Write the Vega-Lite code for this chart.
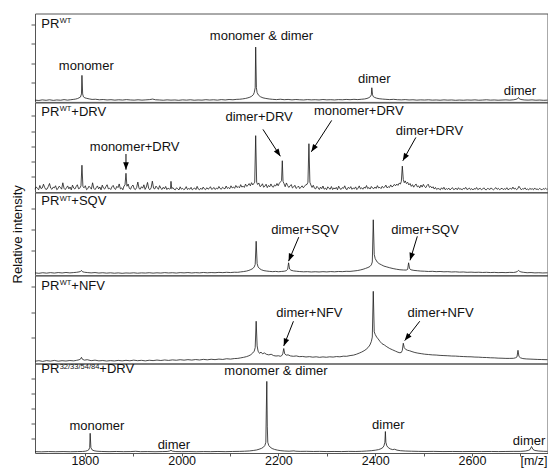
{
"$schema": "https://vega.github.io/schema/vega-lite/v6.json",
"padding": {"left": 10, "top": 12.5, "right": 0, "bottom": 0},
"spacing": 0,
"bounds": "flush",
"config": {
  "view": {"stroke": "#555", "strokeWidth": 1},
  "font": "Liberation Sans",
  "text": {"font": "Liberation Sans", "color": "#111"},
  "axis": {"labelFont": "Liberation Sans", "titleFont": "Liberation Sans"}
},
"datasets": {
"s1": [
{"x":1697,"y":2.0},{"x":1705,"y":1.6},{"x":1712,"y":2.3},{"x":1720,"y":1.8},{"x":1727,"y":2.4},{"x":1735,"y":1.7},{"x":1742,"y":2.2},{"x":1750,"y":1.9},{"x":1757,"y":2.6},{"x":1764,"y":2.0},{"x":1770,"y":2.4},{"x":1776,"y":2.8},{"x":1781,"y":3.2},{"x":1785,"y":3.8},{"x":1788,"y":4.6},{"x":1791,"y":5.5},{"x":1793,"y":9},{"x":1794,"y":30},{"x":1795.5,"y":9},{"x":1797,"y":5.8},{"x":1800,"y":4.6},{"x":1804,"y":4.0},{"x":1809,"y":3.4},{"x":1815,"y":2.8},{"x":1822,"y":3.0},{"x":1830,"y":2.4},{"x":1838,"y":2.7},{"x":1846,"y":2.2},{"x":1854,"y":2.5},{"x":1862,"y":2.0},{"x":1870,"y":2.4},{"x":1878,"y":2.1},{"x":1886,"y":2.6},{"x":1894,"y":2.2},{"x":1902,"y":2.0},{"x":1910,"y":2.4},{"x":1918,"y":2.0},{"x":1926,"y":2.3},{"x":1934,"y":2.6},{"x":1940,"y":3.2},{"x":1946,"y":2.4},{"x":1954,"y":2.2},{"x":1962,"y":1.9},{"x":1970,"y":2.3},{"x":1978,"y":2.0},{"x":1986,"y":2.2},{"x":1994,"y":1.8},{"x":2002,"y":2.3},{"x":2010,"y":2.0},{"x":2018,"y":2.4},{"x":2026,"y":1.9},{"x":2034,"y":2.2},{"x":2042,"y":2.0},{"x":2050,"y":2.5},{"x":2058,"y":2.1},{"x":2066,"y":2.4},{"x":2074,"y":2.0},{"x":2082,"y":2.6},{"x":2090,"y":2.2},{"x":2098,"y":2.7},{"x":2106,"y":2.4},{"x":2114,"y":2.9},{"x":2120,"y":3.0},{"x":2126,"y":3.4},{"x":2132,"y":3.9},{"x":2137,"y":4.6},{"x":2141,"y":5.3},{"x":2145,"y":6.5},{"x":2148,"y":8.0},{"x":2150,"y":10.5},{"x":2152,"y":16},{"x":2153,"y":62},{"x":2154.5,"y":16},{"x":2156,"y":10.5},{"x":2159,"y":7.5},{"x":2163,"y":5.8},{"x":2168,"y":4.6},{"x":2174,"y":3.9},{"x":2181,"y":3.3},{"x":2188,"y":2.9},{"x":2196,"y":2.6},{"x":2204,"y":3.0},{"x":2212,"y":2.5},{"x":2220,"y":2.8},{"x":2228,"y":2.3},{"x":2236,"y":2.7},{"x":2244,"y":2.4},{"x":2252,"y":2.2},{"x":2260,"y":2.6},{"x":2268,"y":2.3},{"x":2276,"y":2.5},{"x":2284,"y":2.2},{"x":2292,"y":2.7},{"x":2300,"y":2.3},{"x":2308,"y":2.5},{"x":2316,"y":2.2},{"x":2324,"y":2.6},{"x":2332,"y":2.4},{"x":2340,"y":2.8},{"x":2348,"y":2.5},{"x":2356,"y":2.9},{"x":2364,"y":2.6},{"x":2372,"y":3.0},{"x":2378,"y":3.3},{"x":2383,"y":3.9},{"x":2387,"y":4.8},{"x":2390,"y":6.0},{"x":2392,"y":8},{"x":2393,"y":16},{"x":2394.5,"y":8},{"x":2396,"y":6.0},{"x":2399,"y":5.0},{"x":2403,"y":4.2},{"x":2408,"y":3.6},{"x":2415,"y":3.2},{"x":2422,"y":2.9},{"x":2430,"y":2.6},{"x":2438,"y":2.9},{"x":2446,"y":2.5},{"x":2454,"y":2.3},{"x":2462,"y":2.6},{"x":2470,"y":2.2},{"x":2478,"y":2.4},{"x":2486,"y":2.0},{"x":2494,"y":2.3},{"x":2502,"y":2.1},{"x":2510,"y":2.4},{"x":2518,"y":2.0},{"x":2526,"y":2.2},{"x":2534,"y":1.9},{"x":2542,"y":2.3},{"x":2550,"y":2.0},{"x":2558,"y":2.2},{"x":2566,"y":1.8},{"x":2574,"y":2.1},{"x":2582,"y":1.9},{"x":2590,"y":2.2},{"x":2598,"y":2.0},{"x":2606,"y":2.3},{"x":2614,"y":1.9},{"x":2622,"y":2.1},{"x":2630,"y":2.4},{"x":2638,"y":2.0},{"x":2646,"y":2.2},{"x":2654,"y":1.9},{"x":2662,"y":2.1},{"x":2670,"y":2.3},{"x":2678,"y":2.0},{"x":2686,"y":2.4},{"x":2691,"y":2.9},{"x":2694,"y":3.6},{"x":2696,"y":5.0},{"x":2698,"y":3.4},{"x":2701,"y":2.7},{"x":2708,"y":2.2},{"x":2716,"y":2.0},{"x":2724,"y":2.3},{"x":2732,"y":1.9},{"x":2740,"y":2.1},{"x":2748,"y":1.8},{"x":2756,"y":2.0}
],
"s2": [
{"x":1697,"y":3.2},{"x":1699.5,"y":5.8},{"x":1702,"y":4.1},{"x":1704.5,"y":2.6},{"x":1707,"y":7.4},{"x":1709.5,"y":3.9},{"x":1712,"y":4.6},{"x":1714.5,"y":8.8},{"x":1717,"y":5.1},{"x":1719.5,"y":2.9},{"x":1722,"y":3.5},{"x":1724.5,"y":6.2},{"x":1727,"y":9.6},{"x":1729.5,"y":4.4},{"x":1732,"y":3.1},{"x":1734.5,"y":5.5},{"x":1737,"y":4.8},{"x":1739.5,"y":7.1},{"x":1742,"y":2.7},{"x":1744.5,"y":3.8},{"x":1747,"y":6.6},{"x":1749.5,"y":5.2},{"x":1752,"y":3.3},{"x":1754.5,"y":10.4},{"x":1757,"y":4.2},{"x":1759.5,"y":2.8},{"x":1762,"y":4.9},{"x":1764.5,"y":6.9},{"x":1767,"y":3.6},{"x":1769.5,"y":5.7},{"x":1772,"y":2.5},{"x":1774.5,"y":7.8},{"x":1777,"y":4.5},{"x":1779.5,"y":3.4},{"x":1782,"y":6.1},{"x":1784.5,"y":8.2},{"x":1787,"y":3.7},{"x":1789.5,"y":4.3},
{"x":1792,"y":7},{"x":1794,"y":30},{"x":1796,"y":6},
{"x":1798.5,"y":4.8},{"x":1801,"y":7.1},{"x":1803.5,"y":2.7},{"x":1806,"y":3.8},{"x":1808.5,"y":6.6},{"x":1811,"y":5.2},{"x":1813.5,"y":3.3},{"x":1816,"y":10.4},{"x":1818.5,"y":4.2},{"x":1821,"y":2.8},{"x":1823.5,"y":4.9},{"x":1826,"y":6.9},{"x":1828.5,"y":3.6},{"x":1831,"y":5.7},{"x":1833.5,"y":2.5},{"x":1836,"y":7.8},{"x":1838.5,"y":4.5},{"x":1841,"y":3.4},{"x":1843.5,"y":6.1},{"x":1846,"y":8.2},{"x":1848.5,"y":3.7},{"x":1851,"y":4.3},{"x":1853.5,"y":2.9},{"x":1856,"y":5.9},{"x":1858.5,"y":7.5},{"x":1861,"y":4.0},{"x":1863.5,"y":3.0},{"x":1866,"y":6.4},{"x":1868.5,"y":5.0},{"x":1871,"y":9.1},{"x":1873.5,"y":3.5},{"x":1876,"y":4.7},{"x":1878.5,"y":2.6},{"x":1881,"y":6.8},
{"x":1883,"y":8},{"x":1885,"y":21},{"x":1887,"y":6.5},
{"x":1889.5,"y":9.0},{"x":1892,"y":4.1},{"x":1894.5,"y":3.2},{"x":1897,"y":6.5},{"x":1899.5,"y":7.9},{"x":1902,"y":3.6},{"x":1904.5,"y":2.8},{"x":1907,"y":5.1},{"x":1909.5,"y":11.2},{"x":1912,"y":4.0},{"x":1914.5,"y":3.3},{"x":1917,"y":6.0},{"x":1919.5,"y":4.4},{"x":1922,"y":8.1},{"x":1924.5,"y":3.0},{"x":1927,"y":5.6},{"x":1929.5,"y":10.8},{"x":1932,"y":3.9},{"x":1934.5,"y":2.7},{"x":1937,"y":4.8},{"x":1939.5,"y":12.2},{"x":1942,"y":4.3},{"x":1944.5,"y":3.5},{"x":1947,"y":6.7},{"x":1949.5,"y":5.0},{"x":1952,"y":3.1},{"x":1954.5,"y":7.2},{"x":1957,"y":4.2},{"x":1959.5,"y":2.9},{"x":1962,"y":5.4},{"x":1964.5,"y":3.6},{"x":1967,"y":6.3},{"x":1969.5,"y":2.8},{"x":1972,"y":4.5},{"x":1974.5,"y":3.4},
{"x":1977,"y":4},{"x":1978,"y":12},{"x":1979.5,"y":3.8},
{"x":1982,"y":5.0},{"x":1984.5,"y":3.1},{"x":1987,"y":2.6},{"x":1989.5,"y":4.8},{"x":1992,"y":3.7},{"x":1994.5,"y":2.4},{"x":1997,"y":5.9},{"x":1999.5,"y":3.3},{"x":2002,"y":4.2},{"x":2004.5,"y":2.7},{"x":2007,"y":3.5},{"x":2009.5,"y":6.1},{"x":2012,"y":2.9},{"x":2014.5,"y":4.0},{"x":2017,"y":3.2},{"x":2019.5,"y":5.3},{"x":2022,"y":2.5},{"x":2024.5,"y":3.8},{"x":2027,"y":4.6},{"x":2029.5,"y":2.8},{"x":2032,"y":6.4},{"x":2034.5,"y":3.4},{"x":2037,"y":2.6},{"x":2039.5,"y":4.4},{"x":2042,"y":3.0},{"x":2044.5,"y":5.6},{"x":2047,"y":3.6},{"x":2049.5,"y":2.7},{"x":2052,"y":4.9},{"x":2054.5,"y":3.3},{"x":2057,"y":4.1},{"x":2059.5,"y":6.0},{"x":2062,"y":3.1},{"x":2064.5,"y":3.9},{"x":2067,"y":5.2},{"x":2069.5,"y":2.9},{"x":2072,"y":4.5},{"x":2074.5,"y":3.5},{"x":2077,"y":6.3},{"x":2079.5,"y":4.0},{"x":2082,"y":3.2},{"x":2084.5,"y":5.4},{"x":2087,"y":4.3},{"x":2089.5,"y":3.6},{"x":2092,"y":6.8},{"x":2094.5,"y":4.1},{"x":2097,"y":5.0},{"x":2099.5,"y":3.8},{"x":2102,"y":7.0},{"x":2104.5,"y":4.6},{"x":2107,"y":5.7},{"x":2109.5,"y":4.2},{"x":2112,"y":7.4},{"x":2114.5,"y":5.1},{"x":2117,"y":6.2},{"x":2119.5,"y":4.8},{"x":2122,"y":8.3},{"x":2124.5,"y":5.6},{"x":2127,"y":6.6},{"x":2129.5,"y":5.2},{"x":2132,"y":8.9},{"x":2134.5,"y":6.4},
{"x":2137,"y":7.5},{"x":2139.5,"y":9.5},{"x":2142,"y":7},{"x":2144.5,"y":10.5},{"x":2147,"y":8},{"x":2149,"y":9.5},{"x":2151,"y":11},{"x":2153,"y":63},{"x":2155,"y":11},{"x":2157,"y":8.5},
{"x":2159.5,"y":10.2},{"x":2162,"y":6.1},{"x":2164.5,"y":7.0},{"x":2167,"y":9.3},{"x":2169.5,"y":5.4},{"x":2172,"y":6.6},{"x":2174.5,"y":8.8},{"x":2177,"y":5.0},{"x":2179.5,"y":7.4},{"x":2182,"y":5.9},{"x":2184.5,"y":9.1},{"x":2187,"y":6.3},{"x":2189.5,"y":5.5},{"x":2192,"y":8.0},{"x":2194.5,"y":6.8},{"x":2197,"y":9.6},{"x":2199.5,"y":7.1},{"x":2202,"y":10.0},{"x":2204.5,"y":11.5},
{"x":2206.5,"y":13},{"x":2208,"y":35},{"x":2209.5,"y":12},{"x":2211.5,"y":9.5},
{"x":2214,"y":6.0},{"x":2216.5,"y":10.2},{"x":2219,"y":7.3},{"x":2221.5,"y":5.2},{"x":2224,"y":6.9},{"x":2226.5,"y":8.4},{"x":2229,"y":4.6},{"x":2231.5,"y":5.8},{"x":2234,"y":7.6},{"x":2236.5,"y":4.1},{"x":2239,"y":5.3},{"x":2241.5,"y":6.7},{"x":2244,"y":3.9},{"x":2246.5,"y":5.5},{"x":2249,"y":7.0},{"x":2251.5,"y":4.8},{"x":2254,"y":6.5},{"x":2256.5,"y":8.2},
{"x":2259,"y":8.5},{"x":2261,"y":11},{"x":2263,"y":54},{"x":2265,"y":11},{"x":2267,"y":8},
{"x":2269.5,"y":5.2},{"x":2272,"y":7.6},{"x":2274.5,"y":4.3},{"x":2277,"y":3.6},{"x":2279.5,"y":6.4},{"x":2282,"y":4.9},{"x":2284.5,"y":2.9},{"x":2287,"y":5.6},{"x":2289.5,"y":3.8},{"x":2292,"y":6.8},{"x":2294.5,"y":3.2},{"x":2297,"y":4.5},{"x":2299.5,"y":2.7},{"x":2302,"y":5.9},{"x":2304.5,"y":4.1},{"x":2307,"y":3.3},{"x":2309.5,"y":6.2},{"x":2312,"y":2.8},{"x":2314.5,"y":4.7},{"x":2317,"y":3.5},{"x":2319.5,"y":5.3},{"x":2322,"y":2.6},{"x":2324.5,"y":6.6},{"x":2327,"y":3.9},{"x":2329.5,"y":3.0},{"x":2332,"y":5.0},{"x":2334.5,"y":4.2},{"x":2337,"y":7.0},{"x":2339.5,"y":3.4},{"x":2342,"y":2.9},{"x":2344.5,"y":5.4},{"x":2347,"y":4.0},{"x":2349.5,"y":6.1},{"x":2352,"y":3.1},{"x":2354.5,"y":4.6},{"x":2357,"y":3.7},{"x":2359.5,"y":5.8},{"x":2362,"y":2.8},{"x":2364.5,"y":4.4},{"x":2367,"y":6.9},{"x":2369.5,"y":3.6},{"x":2372,"y":4.8},{"x":2374.5,"y":3.2},{"x":2377,"y":5.5},{"x":2379.5,"y":4.3},{"x":2382,"y":7.3},{"x":2384.5,"y":3.9},{"x":2387,"y":5.1},{"x":2389.5,"y":3.4},{"x":2392,"y":6.3},{"x":2394.5,"y":4.5},{"x":2397,"y":3.8},{"x":2399.5,"y":5.7},{"x":2402,"y":4.1},{"x":2404.5,"y":7.2},{"x":2407,"y":4.6},{"x":2409.5,"y":5.3},{"x":2412,"y":3.9},{"x":2414.5,"y":6.5},{"x":2417,"y":4.8},{"x":2419.5,"y":5.6},{"x":2422,"y":7.8},{"x":2424.5,"y":4.7},{"x":2427,"y":6.0},{"x":2429.5,"y":5.2},{"x":2432,"y":8.0},{"x":2434.5,"y":5.8},{"x":2437,"y":6.6},{"x":2439.5,"y":8.6},
{"x":2442,"y":7},{"x":2444.5,"y":9},{"x":2447,"y":7.5},{"x":2449.5,"y":10},{"x":2452,"y":9},{"x":2454,"y":12},{"x":2456,"y":29},{"x":2458,"y":14},{"x":2460,"y":10.5},{"x":2462,"y":12.5},{"x":2464.5,"y":9.5},{"x":2467,"y":11},{"x":2469.5,"y":8},
{"x":2472,"y":9.6},{"x":2474.5,"y":6.4},{"x":2477,"y":8.3},{"x":2479.5,"y":5.5},{"x":2482,"y":7.7},{"x":2484.5,"y":9.0},{"x":2487,"y":5.8},{"x":2489.5,"y":6.9},{"x":2492,"y":4.7},{"x":2494.5,"y":7.9},{"x":2497,"y":5.6},{"x":2499.5,"y":8.6},{"x":2502,"y":6.2},{"x":2504.5,"y":4.9},{"x":2507,"y":7.4},{"x":2509.5,"y":8.8},{"x":2512,"y":5.3},{"x":2514.5,"y":6.5},{"x":2517,"y":4.6},{"x":2519.5,"y":6.0},
{"x":2522,"y":3.4},{"x":2524.5,"y":5.2},{"x":2527,"y":2.9},{"x":2529.5,"y":4.1},{"x":2532,"y":3.6},{"x":2534.5,"y":2.5},{"x":2537,"y":4.8},{"x":2539.5,"y":3.2},{"x":2542,"y":5.4},{"x":2544.5,"y":2.7},{"x":2547,"y":3.9},{"x":2549.5,"y":3.0},{"x":2552,"y":4.5},{"x":2554.5,"y":2.4},{"x":2557,"y":3.7},{"x":2559.5,"y":5.0},{"x":2562,"y":2.8},{"x":2564.5,"y":3.3},{"x":2567,"y":4.4},{"x":2569.5,"y":2.6},{"x":2572,"y":4.9},{"x":2574.5,"y":3.1},{"x":2577,"y":3.8},{"x":2579.5,"y":2.5},{"x":2582,"y":4.2},{"x":2584.5,"y":3.5},{"x":2587,"y":5.3},{"x":2589.5,"y":2.9},{"x":2592,"y":3.4},{"x":2594.5,"y":4.6},{"x":2597,"y":2.7},{"x":2599.5,"y":3.9},{"x":2602,"y":2.4},{"x":2604.5,"y":4.0},{"x":2607,"y":3.2},{"x":2609.5,"y":5.1},{"x":2612,"y":2.8},{"x":2614.5,"y":3.6},{"x":2617,"y":4.3},{"x":2619.5,"y":2.6},{"x":2622,"y":3.4},{"x":2624.5,"y":4.8},{"x":2627,"y":3.0},{"x":2629.5,"y":2.5},{"x":2632,"y":4.1},{"x":2634.5,"y":3.7},{"x":2637,"y":2.9},{"x":2639.5,"y":4.7},{"x":2642,"y":3.3},{"x":2644.5,"y":2.6},{"x":2647,"y":3.9},{"x":2649.5,"y":5.0},{"x":2652,"y":3.1},{"x":2654.5,"y":4.2},{"x":2657,"y":2.7},{"x":2659.5,"y":3.5},{"x":2662,"y":4.4},{"x":2664.5,"y":2.8},{"x":2667,"y":3.8},{"x":2669.5,"y":3.0},{"x":2672,"y":4.9},{"x":2674.5,"y":2.6},{"x":2677,"y":3.6},{"x":2679.5,"y":4.1},{"x":2682,"y":3.2},{"x":2684.5,"y":5.6},{"x":2687,"y":3.4},{"x":2689.5,"y":4.3},{"x":2692,"y":2.7},{"x":2694.5,"y":3.7},{"x":2697,"y":6.5},{"x":2699.5,"y":4.5},{"x":2702,"y":2.5},{"x":2704.5,"y":3.9},{"x":2707,"y":3.3},{"x":2709.5,"y":4.8},{"x":2712,"y":2.8},{"x":2714.5,"y":3.5},{"x":2717,"y":2.4},{"x":2719.5,"y":4.2},{"x":2722,"y":3.1},{"x":2724.5,"y":3.8},{"x":2727,"y":2.6},{"x":2729.5,"y":4.6},{"x":2732,"y":3.0},{"x":2734.5,"y":3.5},{"x":2737,"y":2.7},{"x":2739.5,"y":4.1},{"x":2742,"y":3.3},{"x":2744.5,"y":2.5},{"x":2747,"y":3.9},{"x":2749.5,"y":3.2},{"x":2752,"y":4.4},{"x":2754.5,"y":2.9},{"x":2756,"y":3.5}
],
"s3": [
{"x":1697,"y":2.8},{"x":1705,"y":2.3},{"x":1713,"y":3},{"x":1721,"y":2.5},{"x":1729,"y":3.1},{"x":1737,"y":2.6},{"x":1745,"y":3.2},{"x":1753,"y":2.7},{"x":1761,"y":3.3},{"x":1769,"y":2.8},{"x":1777,"y":3.2},{"x":1783,"y":3.5},{"x":1788,"y":4},{"x":1791,"y":4.5},{"x":1793,"y":5.8},{"x":1795,"y":4.2},{"x":1799,"y":3.6},{"x":1805,"y":3.2},{"x":1813,"y":2.8},{"x":1821,"y":3.2},{"x":1829,"y":2.6},{"x":1837,"y":3.0},{"x":1845,"y":2.5},{"x":1853,"y":2.9},{"x":1861,"y":2.4},{"x":1869,"y":2.8},{"x":1877,"y":2.3},{"x":1885,"y":2.7},{"x":1893,"y":2.5},{"x":1901,"y":2.9},{"x":1909,"y":2.4},{"x":1917,"y":2.8},{"x":1925,"y":2.6},{"x":1933,"y":3.0},{"x":1941,"y":2.5},{"x":1949,"y":2.9},{"x":1957,"y":2.6},{"x":1965,"y":3.1},{"x":1973,"y":2.7},{"x":1981,"y":3.0},{"x":1989,"y":2.6},{"x":1997,"y":3.1},{"x":2005,"y":2.8},{"x":2013,"y":3.2},{"x":2021,"y":2.7},{"x":2029,"y":3.1},{"x":2037,"y":2.8},{"x":2045,"y":3.3},{"x":2053,"y":2.9},{"x":2061,"y":3.2},{"x":2069,"y":3.0},{"x":2077,"y":3.4},{"x":2085,"y":3.1},{"x":2093,"y":3.5},{"x":2101,"y":3.2},{"x":2109,"y":3.6},{"x":2116,"y":3.5},{"x":2122,"y":4.0},{"x":2128,"y":4.4},{"x":2134,"y":5.0},{"x":2139,"y":5.8},{"x":2143,"y":6.8},{"x":2147,"y":8.0},{"x":2150,"y":10},{"x":2152,"y":13},{"x":2154,"y":41},{"x":2156,"y":14},{"x":2158,"y":10},{"x":2161,"y":8},{"x":2165,"y":6.5},{"x":2170,"y":5.5},{"x":2176,"y":5},{"x":2182,"y":4.6},{"x":2188,"y":4.3},{"x":2194,"y":4.6},{"x":2200,"y":4.2},{"x":2206,"y":4.5},{"x":2212,"y":4.8},{"x":2216,"y":5.4},{"x":2219,"y":7},{"x":2221,"y":15},{"x":2223,"y":7.5},{"x":2226,"y":6},{"x":2231,"y":5.2},{"x":2237,"y":4.8},{"x":2244,"y":4.4},{"x":2252,"y":4.1},{"x":2260,"y":4.3},{"x":2268,"y":3.9},{"x":2276,"y":4.2},{"x":2284,"y":3.9},{"x":2292,"y":4.3},{"x":2300,"y":4.0},{"x":2308,"y":4.4},{"x":2316,"y":4.1},{"x":2324,"y":4.5},{"x":2332,"y":4.3},{"x":2340,"y":4.7},{"x":2348,"y":4.6},{"x":2356,"y":5.1},{"x":2363,"y":5.6},{"x":2369,"y":6.3},{"x":2375,"y":7.2},{"x":2380,"y":8.2},{"x":2385,"y":9.3},{"x":2389,"y":10.5},{"x":2392,"y":12.5},{"x":2394,"y":16},{"x":2396,"y":67},{"x":2398,"y":25},{"x":2400,"y":20},{"x":2404,"y":16},{"x":2408,"y":14},{"x":2413,"y":12.5},{"x":2418,"y":11},{"x":2424,"y":10},{"x":2430,"y":9},{"x":2437,"y":8},{"x":2444,"y":7.2},{"x":2451,"y":6.6},{"x":2458,"y":6.3},{"x":2464,"y":6.2},{"x":2467,"y":7},{"x":2469,"y":15},{"x":2471,"y":8},{"x":2474,"y":6.5},{"x":2480,"y":5.8},{"x":2487,"y":5.4},{"x":2494,"y":5.0},{"x":2502,"y":4.8},{"x":2510,"y":4.5},{"x":2518,"y":4.7},{"x":2526,"y":4.3},{"x":2534,"y":4.5},{"x":2542,"y":4.1},{"x":2550,"y":4.3},{"x":2558,"y":3.9},{"x":2566,"y":4.1},{"x":2574,"y":3.7},{"x":2582,"y":3.9},{"x":2590,"y":3.5},{"x":2598,"y":3.7},{"x":2606,"y":3.4},{"x":2614,"y":3.6},{"x":2622,"y":3.3},{"x":2630,"y":3.5},{"x":2638,"y":3.2},{"x":2646,"y":3.4},{"x":2654,"y":3.1},{"x":2662,"y":3.3},{"x":2670,"y":3.1},{"x":2678,"y":3.4},{"x":2686,"y":3.3},{"x":2691,"y":3.8},{"x":2694,"y":4.6},{"x":2696,"y":5.8},{"x":2698,"y":4.8},{"x":2701,"y":4.0},{"x":2706,"y":3.5},{"x":2714,"y":3.0},{"x":2722,"y":3.2},{"x":2730,"y":2.8},{"x":2738,"y":3.0},{"x":2746,"y":2.7},{"x":2756,"y":2.9}
],
"s4": [
{"x":1697,"y":2.6},{"x":1705,"y":3.2},{"x":1713,"y":2.4},{"x":1721,"y":3.3},{"x":1729,"y":2.7},{"x":1737,"y":3.5},{"x":1745,"y":2.6},{"x":1753,"y":3.2},{"x":1761,"y":2.8},{"x":1769,"y":3.4},{"x":1777,"y":3.0},{"x":1783,"y":3.6},{"x":1788,"y":4.2},{"x":1791,"y":5},{"x":1793,"y":7},{"x":1795,"y":4.8},{"x":1799,"y":3.8},{"x":1805,"y":4.3},{"x":1813,"y":3.2},{"x":1821,"y":3.8},{"x":1829,"y":3.0},{"x":1837,"y":3.4},{"x":1845,"y":2.8},{"x":1853,"y":3.3},{"x":1861,"y":2.9},{"x":1869,"y":3.5},{"x":1877,"y":3.0},{"x":1885,"y":3.6},{"x":1893,"y":3.1},{"x":1901,"y":3.8},{"x":1909,"y":3.2},{"x":1917,"y":3.6},{"x":1925,"y":3.0},{"x":1933,"y":3.7},{"x":1941,"y":3.3},{"x":1949,"y":3.9},{"x":1957,"y":3.4},{"x":1965,"y":4.0},{"x":1973,"y":3.5},{"x":1981,"y":4.1},{"x":1989,"y":3.7},{"x":1997,"y":4.3},{"x":2005,"y":3.8},{"x":2013,"y":4.4},{"x":2021,"y":3.9},{"x":2029,"y":4.5},{"x":2037,"y":4.0},{"x":2045,"y":4.7},{"x":2053,"y":4.2},{"x":2061,"y":4.8},{"x":2069,"y":4.4},{"x":2077,"y":5.0},{"x":2085,"y":4.6},{"x":2093,"y":5.4},{"x":2101,"y":5.0},{"x":2109,"y":5.6},{"x":2116,"y":5.8},{"x":2122,"y":6.4},{"x":2128,"y":7.0},{"x":2134,"y":7.8},{"x":2139,"y":8.8},{"x":2143,"y":10},{"x":2147,"y":12},{"x":2150,"y":14},{"x":2152,"y":18},{"x":2154,"y":48},{"x":2156,"y":20},{"x":2158,"y":14},{"x":2161,"y":11.5},{"x":2164,"y":13},{"x":2167,"y":11},{"x":2171,"y":12},{"x":2175,"y":10.5},{"x":2180,"y":9.8},{"x":2185,"y":10.5},{"x":2190,"y":9},{"x":2195,"y":8.5},{"x":2200,"y":8.8},{"x":2204,"y":8.2},{"x":2207,"y":9},{"x":2209,"y":11},{"x":2211,"y":17},{"x":2213,"y":11},{"x":2216,"y":9.5},{"x":2220,"y":9.8},{"x":2225,"y":8.6},{"x":2231,"y":8.2},{"x":2237,"y":8.6},{"x":2243,"y":7.8},{"x":2250,"y":8.0},{"x":2257,"y":7.4},{"x":2264,"y":7.8},{"x":2271,"y":7.2},{"x":2278,"y":7.6},{"x":2285,"y":7.0},{"x":2292,"y":7.5},{"x":2299,"y":7.1},{"x":2306,"y":7.6},{"x":2313,"y":7.3},{"x":2320,"y":7.9},{"x":2327,"y":7.6},{"x":2334,"y":8.3},{"x":2341,"y":8.2},{"x":2348,"y":9.0},{"x":2355,"y":9.5},{"x":2361,"y":10.5},{"x":2367,"y":11.8},{"x":2372,"y":13},{"x":2377,"y":14.5},{"x":2381,"y":16},{"x":2385,"y":18},{"x":2389,"y":21},{"x":2392,"y":25},{"x":2394,"y":30},{"x":2396,"y":82},{"x":2398,"y":36},{"x":2400,"y":33},{"x":2403,"y":30},{"x":2406,"y":28},{"x":2410,"y":25},{"x":2414,"y":22.5},{"x":2419,"y":21},{"x":2424,"y":19},{"x":2430,"y":17},{"x":2436,"y":15.5},{"x":2442,"y":14},{"x":2447,"y":12.8},{"x":2451,"y":12.2},{"x":2454,"y":12.6},{"x":2456,"y":15},{"x":2458,"y":23},{"x":2460,"y":18},{"x":2463,"y":16},{"x":2467,"y":15},{"x":2471,"y":14.5},{"x":2476,"y":13.5},{"x":2482,"y":12.5},{"x":2488,"y":11.8},{"x":2495,"y":11.2},{"x":2502,"y":10.6},{"x":2510,"y":10.2},{"x":2518,"y":9.8},{"x":2526,"y":9.6},{"x":2534,"y":9.2},{"x":2542,"y":9.0},{"x":2550,"y":8.8},{"x":2558,"y":8.5},{"x":2566,"y":8.4},{"x":2574,"y":8.1},{"x":2582,"y":7.9},{"x":2590,"y":7.7},{"x":2598,"y":7.6},{"x":2606,"y":7.3},{"x":2614,"y":7.2},{"x":2622,"y":6.9},{"x":2630,"y":6.8},{"x":2638,"y":6.5},{"x":2646,"y":6.4},{"x":2654,"y":6.1},{"x":2662,"y":6.0},{"x":2670,"y":5.8},{"x":2678,"y":5.8},{"x":2686,"y":5.9},{"x":2690,"y":6.5},{"x":2693,"y":7.5},{"x":2695,"y":15},{"x":2697,"y":8},{"x":2700,"y":6.5},{"x":2705,"y":5.6},{"x":2712,"y":5.2},{"x":2720,"y":5.0},{"x":2728,"y":4.8},{"x":2736,"y":4.6},{"x":2744,"y":4.5},{"x":2756,"y":4.3}
],
"s5": [
{"x":1697,"y":1.5},{"x":1710,"y":1.3},{"x":1725,"y":1.6},{"x":1740,"y":1.4},{"x":1755,"y":1.6},{"x":1770,"y":1.4},{"x":1785,"y":1.6},{"x":1795,"y":1.7},{"x":1801,"y":2.0},{"x":1805,"y":2.6},{"x":1808,"y":3.5},{"x":1810,"y":6},{"x":1811,"y":22},{"x":1812.5,"y":6},{"x":1815,"y":3.5},{"x":1819,"y":2.5},{"x":1825,"y":2.0},{"x":1835,"y":1.7},{"x":1850,"y":1.5},{"x":1865,"y":1.7},{"x":1880,"y":1.5},{"x":1895,"y":1.6},{"x":1905,"y":1.9},{"x":1915,"y":1.5},{"x":1930,"y":1.6},{"x":1945,"y":1.4},{"x":1960,"y":1.6},{"x":1970,"y":1.7},{"x":1975,"y":2.2},{"x":1978,"y":3.0},{"x":1981,"y":2.1},{"x":1988,"y":1.6},{"x":2000,"y":1.5},{"x":2015,"y":1.6},{"x":2030,"y":1.4},{"x":2045,"y":1.6},{"x":2060,"y":1.5},{"x":2075,"y":1.7},{"x":2090,"y":1.5},{"x":2105,"y":1.7},{"x":2120,"y":1.8},{"x":2130,"y":2.0},{"x":2140,"y":2.3},{"x":2148,"y":2.8},{"x":2155,"y":3.4},{"x":2160,"y":4.2},{"x":2165,"y":5.2},{"x":2169,"y":6.5},{"x":2172,"y":8.5},{"x":2174,"y":12},{"x":2175,"y":48},{"x":2176,"y":80},{"x":2177,"y":30},{"x":2178,"y":12},{"x":2180,"y":8.5},{"x":2183,"y":6.5},{"x":2187,"y":5},{"x":2192,"y":4},{"x":2198,"y":3.2},{"x":2205,"y":2.6},{"x":2213,"y":2.2},{"x":2222,"y":2.0},{"x":2232,"y":2.4},{"x":2236,"y":2.0},{"x":2245,"y":1.8},{"x":2258,"y":1.9},{"x":2272,"y":1.7},{"x":2285,"y":1.8},{"x":2300,"y":1.6},{"x":2315,"y":1.7},{"x":2330,"y":1.6},{"x":2345,"y":1.8},{"x":2360,"y":1.7},{"x":2372,"y":1.9},{"x":2382,"y":2.2},{"x":2392,"y":2.6},{"x":2400,"y":3.1},{"x":2407,"y":3.8},{"x":2412,"y":4.8},{"x":2416,"y":6.2},{"x":2418,"y":8},{"x":2420,"y":12},{"x":2421,"y":24},{"x":2422,"y":12},{"x":2424,"y":8},{"x":2427,"y":6},{"x":2431,"y":4.6},{"x":2436,"y":3.8},{"x":2440,"y":4.2},{"x":2445,"y":3.2},{"x":2452,"y":2.6},{"x":2462,"y":2.2},{"x":2475,"y":2.0},{"x":2490,"y":1.8},{"x":2505,"y":1.7},{"x":2520,"y":1.8},{"x":2540,"y":1.6},{"x":2560,"y":1.7},{"x":2580,"y":1.6},{"x":2600,"y":1.7},{"x":2620,"y":1.6},{"x":2640,"y":1.7},{"x":2655,"y":1.6},{"x":2670,"y":1.7},{"x":2685,"y":1.8},{"x":2700,"y":1.8},{"x":2710,"y":2.2},{"x":2716,"y":2.8},{"x":2720,"y":3.8},{"x":2723,"y":7.2},{"x":2726,"y":4.0},{"x":2730,"y":2.8},{"x":2738,"y":2.2},{"x":2748,"y":1.9},{"x":2756,"y":1.8}
],
"ann": [
{"p":1,"x":1803,"y":36,"t":"monomer"},
{"p":1,"x":2165,"y":70.5,"t":"monomer & dimer"},
{"p":1,"x":2398,"y":21.5,"t":"dimer"},
{"p":1,"x":2699,"y":7.6,"t":"dimer"},
{"p":2,"x":1903,"y":46,"t":"monomer+DRV"},
{"p":2,"x":2160,"y":79.6,"t":"dimer+DRV"},
{"p":2,"x":2366,"y":86.3,"t":"monomer+DRV"},
{"p":2,"x":2512,"y":64,"t":"dimer+DRV"},
{"p":3,"x":2255,"y":50,"t":"dimer+SQV"},
{"p":3,"x":2503,"y":50,"t":"dimer+SQV"},
{"p":4,"x":2264,"y":53,"t":"dimer+NFV"},
{"p":4,"x":2535,"y":53,"t":"dimer+NFV"},
{"p":5,"x":1825,"y":26,"t":"monomer"},
{"p":5,"x":1984,"y":4,"t":"dimer"},
{"p":5,"x":2195,"y":87.5,"t":"monomer & dimer"},
{"p":5,"x":2427,"y":27,"t":"dimer"},
{"p":5,"x":2718,"y":9.3,"t":"dimer"}
],
"nm": [
{"p":1,"x":1710,"y":84,"t":"PR"},
{"p":2,"x":1710,"y":85,"t":"PR"},{"p":2,"x":1772,"y":85,"t":"+DRV"},
{"p":3,"x":1710,"y":84.6,"t":"PR"},{"p":3,"x":1772,"y":84.6,"t":"+SQV"},
{"p":4,"x":1710,"y":83.8,"t":"PR"},{"p":4,"x":1772,"y":83.8,"t":"+NFV"},
{"p":5,"x":1710,"y":89,"t":"PR"},{"p":5,"x":1830,"y":89,"t":"+DRV"}
],
"sup": [
{"p":1,"x":1748,"y":84,"t":"WT"},
{"p":2,"x":1748,"y":85,"t":"WT"},
{"p":3,"x":1748,"y":84.6,"t":"WT"},
{"p":4,"x":1748,"y":83.8,"t":"WT"},
{"p":5,"x":1748,"y":89,"t":"32/33/54/84"}
],
"arr": [
{"p":2,"x":1885,"y":42.5,"x2":1885,"y2":25},
{"p":2,"x":2168,"y":70,"x2":2204,"y2":40},
{"p":2,"x":2310,"y":80,"x2":2268,"y2":45},
{"p":2,"x":2484,"y":61,"x2":2457,"y2":35},
{"p":3,"x":2242,"y":46,"x2":2221,"y2":17},
{"p":3,"x":2487,"y":47,"x2":2472,"y2":18},
{"p":4,"x":2231,"y":48,"x2":2211,"y2":20},
{"p":4,"x":2492,"y":48,"x2":2461,"y2":26}
]
},
"vconcat": [
{
 "width": 512.5, "height": 88.4,
 "encoding": {
  "x": {"field": "x", "type": "quantitative", "scale": {"domain": [1697, 2756], "nice": false, "zero": false}, "axis": null},
  "y": {"field": "y", "type": "quantitative", "scale": {"domain": [0, 100], "nice": false}, "axis": {"values": [22, 44, 66, 88], "labels": false, "title": null, "domain": false, "grid": false, "tickSize": 4, "tickColor": "#555"}}
 },
 "layer": [
  {"data": {"name": "s1"}, "mark": {"type": "line", "color": "#1a1a1a", "strokeWidth": 0.8}},
  {"data": {"name": "ann"}, "transform": [{"filter": "datum.p == 1"}], "mark": {"type": "text", "align": "center", "baseline": "alphabetic", "fontSize": 13}, "encoding": {"text": {"field": "t"}}},
  {"data": {"name": "nm"}, "transform": [{"filter": "datum.p == 1"}], "mark": {"type": "text", "align": "left", "baseline": "alphabetic", "fontSize": 13}, "encoding": {"text": {"field": "t"}}},
  {"data": {"name": "sup"}, "transform": [{"filter": "datum.p == 1"}], "mark": {"type": "text", "align": "left", "baseline": "alphabetic", "fontSize": 7.5, "dy": -4.5}, "encoding": {"text": {"field": "t"}}}
 ]
},
{
 "width": 512.5, "height": 89.6,
 "encoding": {
  "x": {"field": "x", "type": "quantitative", "scale": {"domain": [1697, 2756], "nice": false, "zero": false}, "axis": null},
  "y": {"field": "y", "type": "quantitative", "scale": {"domain": [0, 100], "nice": false}, "axis": {"values": [17, 34, 51, 68, 85], "labels": false, "title": null, "domain": false, "grid": false, "tickSize": 4, "tickColor": "#555"}}
 },
 "layer": [
  {"data": {"name": "s2"}, "mark": {"type": "line", "color": "#1a1a1a", "strokeWidth": 0.8}},
  {"data": {"name": "ann"}, "transform": [{"filter": "datum.p == 2"}], "mark": {"type": "text", "align": "center", "baseline": "alphabetic", "fontSize": 13}, "encoding": {"text": {"field": "t"}}},
  {"data": {"name": "nm"}, "transform": [{"filter": "datum.p == 2"}], "mark": {"type": "text", "align": "left", "baseline": "alphabetic", "fontSize": 13}, "encoding": {"text": {"field": "t"}}},
  {"data": {"name": "sup"}, "transform": [{"filter": "datum.p == 2"}], "mark": {"type": "text", "align": "left", "baseline": "alphabetic", "fontSize": 7.5, "dy": -4.5}, "encoding": {"text": {"field": "t"}}},
  {"data": {"name": "arr"}, "transform": [{"filter": "datum.p == 2"}], "mark": {"type": "rule", "color": "#000", "strokeWidth": 1}, "encoding": {"x2": {"field": "x2"}, "y2": {"field": "y2"}}},
  {"data": {"name": "arr"}, "transform": [{"filter": "datum.p == 2"}, {"calculate": "atan2((datum.x2 - datum.x) * 0.484, -(datum.y - datum.y2) * 0.88) * 180 / PI", "as": "ang"}], "mark": {"type": "point", "shape": "M0,0L-0.38,1L0.38,1Z", "filled": true, "color": "#000", "opacity": 1, "size": 225, "strokeWidth": 0}, "encoding": {"x": {"field": "x2", "type": "quantitative"}, "y": {"field": "y2", "type": "quantitative"}, "angle": {"field": "ang", "type": "quantitative", "scale": null}}}
 ]
},
{
 "width": 512.5, "height": 82.7,
 "encoding": {
  "x": {"field": "x", "type": "quantitative", "scale": {"domain": [1697, 2756], "nice": false, "zero": false}, "axis": null},
  "y": {"field": "y", "type": "quantitative", "scale": {"domain": [0, 100], "nice": false}, "axis": {"values": [29.6, 55, 80.4], "labels": false, "title": "Relative intensity", "titleFontSize": 13, "titleFontWeight": "normal", "titleColor": "#111", "titlePadding": 6, "domain": false, "grid": false, "tickSize": 4, "tickColor": "#555"}}
 },
 "layer": [
  {"data": {"name": "s3"}, "mark": {"type": "line", "color": "#1a1a1a", "strokeWidth": 0.8}},
  {"data": {"name": "ann"}, "transform": [{"filter": "datum.p == 3"}], "mark": {"type": "text", "align": "center", "baseline": "alphabetic", "fontSize": 13}, "encoding": {"text": {"field": "t"}}},
  {"data": {"name": "nm"}, "transform": [{"filter": "datum.p == 3"}], "mark": {"type": "text", "align": "left", "baseline": "alphabetic", "fontSize": 13}, "encoding": {"text": {"field": "t"}}},
  {"data": {"name": "sup"}, "transform": [{"filter": "datum.p == 3"}], "mark": {"type": "text", "align": "left", "baseline": "alphabetic", "fontSize": 7.5, "dy": -4.5}, "encoding": {"text": {"field": "t"}}},
  {"data": {"name": "arr"}, "transform": [{"filter": "datum.p == 3"}], "mark": {"type": "rule", "color": "#000", "strokeWidth": 1}, "encoding": {"x2": {"field": "x2"}, "y2": {"field": "y2"}}},
  {"data": {"name": "arr"}, "transform": [{"filter": "datum.p == 3"}, {"calculate": "atan2((datum.x2 - datum.x) * 0.484, -(datum.y - datum.y2) * 0.827) * 180 / PI", "as": "ang"}], "mark": {"type": "point", "shape": "M0,0L-0.38,1L0.38,1Z", "filled": true, "color": "#000", "opacity": 1, "size": 225, "strokeWidth": 0}, "encoding": {"x": {"field": "x2", "type": "quantitative"}, "y": {"field": "y2", "type": "quantitative"}, "angle": {"field": "ang", "type": "quantitative", "scale": null}}}
 ]
},
{
 "width": 512.5, "height": 88,
 "encoding": {
  "x": {"field": "x", "type": "quantitative", "scale": {"domain": [1697, 2756], "nice": false, "zero": false}, "axis": null},
  "y": {"field": "y", "type": "quantitative", "scale": {"domain": [0, 100], "nice": false}, "axis": {"values": [29.5, 58.5, 87.5], "labels": false, "title": null, "domain": false, "grid": false, "tickSize": 4, "tickColor": "#555"}}
 },
 "layer": [
  {"data": {"name": "s4"}, "mark": {"type": "line", "color": "#1a1a1a", "strokeWidth": 0.8}},
  {"data": {"name": "ann"}, "transform": [{"filter": "datum.p == 4"}], "mark": {"type": "text", "align": "center", "baseline": "alphabetic", "fontSize": 13}, "encoding": {"text": {"field": "t"}}},
  {"data": {"name": "nm"}, "transform": [{"filter": "datum.p == 4"}], "mark": {"type": "text", "align": "left", "baseline": "alphabetic", "fontSize": 13}, "encoding": {"text": {"field": "t"}}},
  {"data": {"name": "sup"}, "transform": [{"filter": "datum.p == 4"}], "mark": {"type": "text", "align": "left", "baseline": "alphabetic", "fontSize": 7.5, "dy": -4.5}, "encoding": {"text": {"field": "t"}}},
  {"data": {"name": "arr"}, "transform": [{"filter": "datum.p == 4"}], "mark": {"type": "rule", "color": "#000", "strokeWidth": 1}, "encoding": {"x2": {"field": "x2"}, "y2": {"field": "y2"}}},
  {"data": {"name": "arr"}, "transform": [{"filter": "datum.p == 4"}, {"calculate": "atan2((datum.x2 - datum.x) * 0.484, -(datum.y - datum.y2) * 0.88) * 180 / PI", "as": "ang"}], "mark": {"type": "point", "shape": "M0,0L-0.38,1L0.38,1Z", "filled": true, "color": "#000", "opacity": 1, "size": 225, "strokeWidth": 0}, "encoding": {"x": {"field": "x2", "type": "quantitative"}, "y": {"field": "y2", "type": "quantitative"}, "angle": {"field": "ang", "type": "quantitative", "scale": null}}}
 ]
},
{
 "width": 512.5, "height": 89.5,
 "encoding": {
  "x": {"field": "x", "type": "quantitative", "scale": {"domain": [1697, 2756], "nice": false, "zero": false}, "axis": {"values": [1800, 1900, 2000, 2100, 2200, 2300, 2400, 2500, 2600, 2700], "format": "d", "labelExpr": "datum.value % 200 == 0 ? datum.label : ''", "labelFontSize": 12.5, "labelColor": "#111", "labelBaseline": "alphabetic", "labelPadding": 8, "labelFlush": false, "tickSize": 3, "tickColor": "#555", "domain": false, "grid": false, "title": "[m/z]", "titleFontSize": 12.5, "titleFontWeight": "normal", "titleColor": "#111", "titleAnchor": "end", "titleAlign": "right", "titleBaseline": "alphabetic", "titleX": 512, "titleY": 11}},
  "y": {"field": "y", "type": "quantitative", "scale": {"domain": [0, 100], "nice": false}, "axis": {"values": [16.7, 33.3, 50, 66.7, 83.3], "labels": false, "title": null, "domain": false, "grid": false, "tickSize": 4, "tickColor": "#555"}}
 },
 "layer": [
  {"data": {"name": "s5"}, "mark": {"type": "line", "color": "#1a1a1a", "strokeWidth": 0.8}},
  {"data": {"name": "ann"}, "transform": [{"filter": "datum.p == 5"}], "mark": {"type": "text", "align": "center", "baseline": "alphabetic", "fontSize": 13}, "encoding": {"text": {"field": "t"}}},
  {"data": {"name": "nm"}, "transform": [{"filter": "datum.p == 5"}], "mark": {"type": "text", "align": "left", "baseline": "alphabetic", "fontSize": 13}, "encoding": {"text": {"field": "t"}}},
  {"data": {"name": "sup"}, "transform": [{"filter": "datum.p == 5"}], "mark": {"type": "text", "align": "left", "baseline": "alphabetic", "fontSize": 7.5, "dy": -4.5}, "encoding": {"text": {"field": "t"}}}
 ]
}
]
}
